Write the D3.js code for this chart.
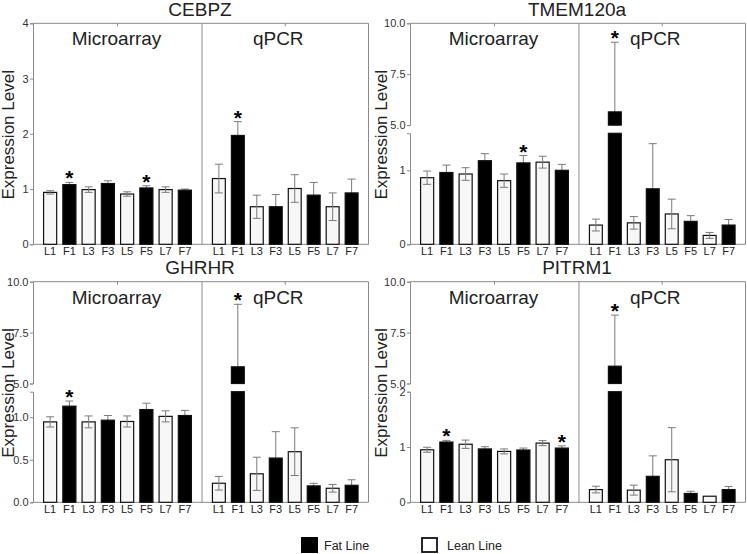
<!DOCTYPE html>
<html><head><meta charset="utf-8">
<script src="https://cdn.jsdelivr.net/npm/d3@7"></script>
<style>
html,body{margin:0;padding:0;background:#fff;}
svg{display:block;font-family:"Liberation Sans",Arial,sans-serif;}
</style></head>
<body><svg id="chart" width="747" height="554"></svg>
<script>
// ---------- DATA ----------
const categories = ["L1","F1","L3","F3","L5","F5","L7","F7"];
const methods = ["Microarray","qPCR"];
const genes = ["CEBPZ","TMEM120a","GHRHR","PITRM1"];
const legendLabels = ["Fat Line","Lean Line"];
const yLabel = "Expression Level";

const cebpzMicroarray    = [0.94,1.08,0.99,1.10,0.91,1.02,0.99,0.98];
const cebpzMicroarrayErr = [0.03,0.04,0.05,0.05,0.04,0.04,0.05,0.02];
const cebpzMicroarraySig = ["F1","F5"];
const cebpzQpcr    = [1.19,1.97,0.68,0.68,1.01,0.89,0.68,0.93];
const cebpzQpcrErr = [0.26,0.25,0.21,0.22,0.25,0.23,0.25,0.25];
const cebpzQpcrSig = ["F1"];

const tmem120aMicroarray    = [0.90,0.97,0.95,1.13,0.86,1.10,1.11,1.00];
const tmem120aMicroarrayErr = [0.09,0.10,0.085,0.095,0.09,0.10,0.08,0.08];
const tmem120aMicroarraySig = ["F5"];
const tmem120aQpcr    = [0.26,5.65,0.29,0.75,0.41,0.31,0.12,0.26];
const tmem120aQpcrErr = [0.08,3.42,0.085,0.61,0.20,0.077,0.04,0.075];
const tmem120aQpcrSig = ["F1"];

const ghrhrMicroarray    = [0.945,1.13,0.945,0.965,0.95,1.09,1.01,1.02];
const ghrhrMicroarrayErr = [0.06,0.06,0.07,0.055,0.065,0.075,0.065,0.06];
const ghrhrMicroarraySig = ["F1"];
const ghrhrQpcr    = [0.224,5.82,0.335,0.52,0.595,0.193,0.165,0.20];
const ghrhrQpcrErr = [0.08,3.07,0.195,0.31,0.28,0.03,0.045,0.065];
const ghrhrQpcrSig = ["F1"];

const pitrm1Microarray    = [0.95,1.09,1.05,0.965,0.92,0.946,1.07,0.98];
const pitrm1MicroarrayErr = [0.045,0.03,0.075,0.04,0.045,0.035,0.045,0.04];
const pitrm1MicroarraySig = ["F1","F7"];
const pitrm1Qpcr    = [0.23,5.85,0.22,0.47,0.77,0.16,0.11,0.23];
const pitrm1QpcrErr = [0.06,2.51,0.09,0.37,0.58,0.04,0,0.055];
const pitrm1QpcrSig = ["F1"];

// y-axis tick values per gene (lower segment, upper segment)
const cebpzTicks = [0,1,2,3,4];
const tmem120aTicks = [0,1];
const ghrhrTicks = [0,0.5,1.0];
const pitrm1Ticks = [0,1,2];
const upperTicks = [5,7.5,10];

// ---------- BUILD ----------
const panelData = [
  {gene:genes[0], series:[[cebpzMicroarray,cebpzMicroarrayErr,cebpzMicroarraySig],[cebpzQpcr,cebpzQpcrErr,cebpzQpcrSig]],
   lowerMax:4, lowerTicks:cebpzTicks, fmt:d3.format("d"), broken:false},
  {gene:genes[1], series:[[tmem120aMicroarray,tmem120aMicroarrayErr,tmem120aMicroarraySig],[tmem120aQpcr,tmem120aQpcrErr,tmem120aQpcrSig]],
   lowerMax:1.5, lowerTicks:tmem120aTicks, fmt:d3.format("d"), broken:true},
  {gene:genes[2], series:[[ghrhrMicroarray,ghrhrMicroarrayErr,ghrhrMicroarraySig],[ghrhrQpcr,ghrhrQpcrErr,ghrhrQpcrSig]],
   lowerMax:1.3, lowerTicks:ghrhrTicks, fmt:d3.format(".1f"), broken:true},
  {gene:genes[3], series:[[pitrm1Microarray,pitrm1MicroarrayErr,pitrm1MicroarraySig],[pitrm1Qpcr,pitrm1QpcrErr,pitrm1QpcrSig]],
   lowerMax:2, lowerTicks:pitrm1Ticks, fmt:d3.format("d"), broken:true}
];

const svg = d3.select("#chart");
const layout = [
  {x0:33, x1:368.5, y0:23.3, y1:244.3, lab:13.5},
  {x0:410, x1:745.5, y0:23.3, y1:244.3, lab:387},
  {x0:33, x1:368.5, y0:281.7, y1:502.3, lab:13.5},
  {x0:410, x1:745.5, y0:281.7, y1:502.3, lab:387}
];
const frameColor = "#8a8a8a";
const textColor = "#222";

panelData.forEach((p, pi) => {
  const L = layout[pi];
  const g = svg.append("g");
  const xDiv = L.x0 + 169;

  // y scales
  let yLow, yUp = null;
  if (!p.broken) {
    yLow = d3.scaleLinear().domain([0, p.lowerMax]).range([L.y1, L.y0]);
  } else {
    yLow = d3.scaleLinear().domain([0, p.lowerMax]).range([L.y1, L.y0 + 110]);
    yUp = d3.scaleLinear().domain([5, 10]).range([L.y0 + 101.8, L.y0]);
  }
  const yAt = v => {
    if (!yUp || v <= p.lowerMax) return yLow(Math.max(0, v));
    if (v < 5) return yUp(5);
    return yUp(v);
  };

  // frame: top, right, bottom lines
  g.append("path")
    .attr("d", `M${L.x0},${L.y0}H${L.x1}V${L.y1}H${L.x0}`)
    .attr("fill","none").attr("stroke",frameColor).attr("stroke-width",1);
  // divider
  g.append("line").attr("x1",xDiv).attr("x2",xDiv).attr("y1",L.y0).attr("y2",L.y1)
    .attr("stroke",frameColor).attr("stroke-width",1);

  // y axes
  const styleAxis = sel => {
    sel.select(".domain").attr("stroke",frameColor);
    sel.selectAll(".tick line").attr("stroke",frameColor);
    sel.selectAll(".tick text").attr("fill","#333").style("font-size","11px")
      .style("font-family","'Liberation Sans',Arial,sans-serif");
  };
  const axL = g.append("g").attr("transform",`translate(${L.x0},0)`)
    .call(d3.axisLeft(yLow).tickValues(p.lowerTicks).tickFormat(p.fmt).tickSize(3).tickSizeOuter(3).tickPadding(1.5));
  styleAxis(axL);
  if (yUp) {
    const axU = g.append("g").attr("transform",`translate(${L.x0},0)`)
      .call(d3.axisLeft(yUp).tickValues(upperTicks).tickFormat(d3.format(".1f")).tickSize(3).tickSizeOuter(3).tickPadding(1.5));
    styleAxis(axU);
  }

  // y label
  g.append("text")
    .attr("transform",`translate(${L.lab},${(L.y0+L.y1)/2 + 1}) rotate(-90)`)
    .attr("text-anchor","middle").attr("fill",textColor)
    .style("font-size","17px").text(yLabel);

  // title
  g.append("text").attr("x", xDiv - 2).attr("y", L.y0 - 7.5)
    .attr("text-anchor","middle").attr("fill",textColor)
    .style("font-size","19px").text(p.gene);

  methods.forEach((m, mi) => {
    const sx0 = mi === 0 ? L.x0 : xDiv;
    const sx1 = mi === 0 ? xDiv : L.x1;
    const x = d3.scaleBand().domain(categories).range([sx0, sx1])
      .paddingInner(0.32).paddingOuter(0.55);
    const [vals, errs, sig] = p.series[mi];
    const rows = categories.map((c,i) => ({c, v:vals[i], e:errs[i], fat:c[0]==="F", sig:sig.includes(c)}));

    // section label
    const cx = (sx0 + sx1)/2 + (mi === 1 ? -7 : -1);
    g.append("text").attr("x", cx).attr("y", L.y0 + 22)
      .attr("text-anchor","middle").attr("fill",textColor)
      .style("font-size","19px").text(m);

    // top tick at section centre
    g.append("line").attr("x1",(sx0+sx1)/2).attr("x2",(sx0+sx1)/2)
      .attr("y1",L.y0).attr("y2",L.y0+3).attr("stroke",frameColor);

    // x labels
    const xa = g.append("g").attr("transform",`translate(0,${L.y1})`)
      .call(d3.axisBottom(x).tickSize(0).tickPadding(3));
    xa.select(".domain").remove();
    xa.selectAll(".tick text").attr("fill","#222").style("font-size","11px")
      .style("font-family","'Liberation Sans',Arial,sans-serif");

    const drawBars = (sel, data) => {
      data.forEach(d => {
        const xx = x(d.c), w = x.bandwidth();
        const fill = d.fat ? "#000" : "#f7f7f7";
        if (yUp && d.v > p.lowerMax) {
          sel.append("rect").attr("x",xx).attr("width",w)
            .attr("y",yLow(p.lowerMax)).attr("height",yLow(0)-yLow(p.lowerMax))
            .attr("fill",fill).attr("stroke","#111").attr("stroke-width",1.2);
          sel.append("rect").attr("x",xx).attr("width",w)
            .attr("y",yUp(d.v)).attr("height",yUp(5)-yUp(d.v))
            .attr("fill",fill).attr("stroke","#111").attr("stroke-width",1.2);
        } else {
          sel.append("rect").attr("x",xx).attr("width",w)
            .attr("y",yLow(d.v)).attr("height",yLow(0)-yLow(d.v))
            .attr("fill",fill).attr("stroke","#111").attr("stroke-width",1.2);
        }
      });
    };

    drawBars(g.append("g"), rows.filter(d => !d.fat));

    // error bars
    const eg = g.append("g").attr("stroke","#7a7a7a").attr("stroke-width",1);
    rows.filter(d => d.e > 0).forEach(d => {
      const cxb = x(d.c) + x.bandwidth()/2;
      const yt = yAt(d.v + d.e), yb = yAt(d.v - d.e);
      eg.append("line").attr("x1",cxb).attr("x2",cxb).attr("y1",yt).attr("y2",yb);
      eg.append("line").attr("x1",cxb-4).attr("x2",cxb+4).attr("y1",yt).attr("y2",yt);
      eg.append("line").attr("x1",cxb-4).attr("x2",cxb+4).attr("y1",yb).attr("y2",yb);
    });

    drawBars(g.append("g"), rows.filter(d => d.fat));

    // asterisks
    rows.filter(d => d.sig).forEach(d => {
      const cxb = x(d.c) + x.bandwidth()/2;
      g.append("text").attr("x",cxb).attr("y", yAt(d.v + d.e) + 3)
        .attr("text-anchor","middle").attr("fill","#000")
        .style("font-size","21px").style("font-weight","bold").text("*");
    });
  });
});

// legend
const leg = svg.append("g");
leg.append("rect").attr("x",301).attr("y",537).attr("width",17).attr("height",16).attr("fill","#000");
leg.append("text").attr("x",324).attr("y",549.5).attr("fill",textColor).style("font-size","12.5px").text(legendLabels[0]);
leg.append("rect").attr("x",422).attr("y",538).attr("width",15).attr("height",14)
  .attr("fill","#fff").attr("stroke","#111").attr("stroke-width",1.8);
leg.append("text").attr("x",447).attr("y",549.5).attr("fill",textColor).style("font-size","12.5px").text(legendLabels[1]);
</script>
</body></html>
